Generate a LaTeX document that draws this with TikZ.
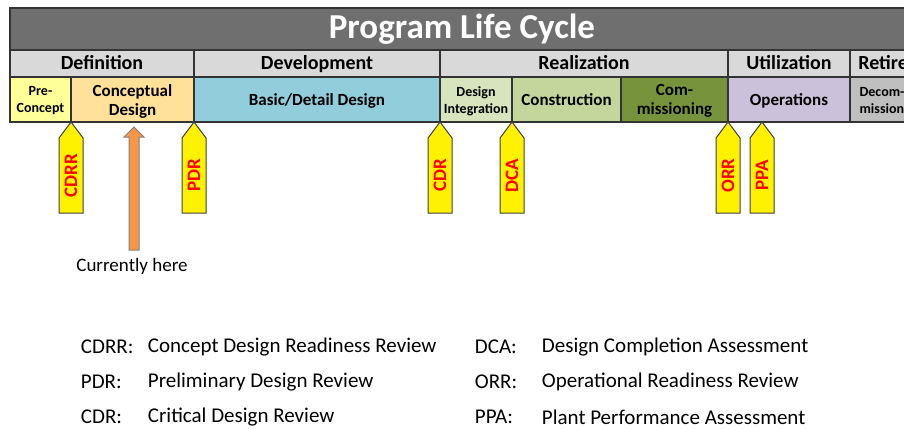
\documentclass[tikz,border=0pt]{standalone}
\usepackage{fontspec}
\setmainfont{Carlito}
\definecolor{titlegray}{HTML}{6F6F6F}
\definecolor{phasegray}{HTML}{D9D9D9}
\definecolor{precon}{HTML}{FFFF99}
\definecolor{concept}{HTML}{FFE199}
\definecolor{basic}{HTML}{92CDDC}
\definecolor{integ}{HTML}{D7E4BD}
\definecolor{constr}{HTML}{C3D69B}
\definecolor{commis}{HTML}{77933C}
\definecolor{oper}{HTML}{CCC1DA}
\definecolor{decom}{HTML}{BFBFBF}
\definecolor{herearrow}{HTML}{F79646}
\begin{document}
\begin{tikzpicture}[x=1pt, y=-1pt, line width=1.2pt,
    box/.style={draw=black!80},
    phasetxt/.style={anchor=base, font=\bfseries\fontsize{20}{21}\selectfont},
    subtxt/.style={font=\bfseries\fontsize{17}{19}\selectfont, align=center},
    smalltxt/.style={font=\bfseries\fontsize{14}{17}\selectfont, align=center},
    mstone/.style={draw=black!75, fill=yellow, line width=1pt},
    mslabel/.style={rotate=90, text=red, font=\bfseries\fontsize{19}{19}\selectfont},
    legtxt/.style={anchor=west, font=\fontsize{21}{22}\selectfont}]
    \useasboundingbox (0,0) rectangle (904,428);
    \clip (0,0) rectangle (904,428);

    % title bar
    \filldraw[box, fill=titlegray] (10,8) rectangle (914,50) node[pos=.5, text=white, font=\bfseries\fontsize{35}{36}\selectfont] (title) {Program Life Cycle};

    % phases
    \filldraw[box, fill=phasegray] (10,50) rectangle (194,77);
    \filldraw[box, fill=phasegray] (194,50) rectangle (440,77);
    \filldraw[box, fill=phasegray] (440,50) rectangle (728,77);
    \filldraw[box, fill=phasegray] (728,50) rectangle (850,77);
    \filldraw[box, fill=phasegray] (850,50) rectangle (960,77);
    \node[phasetxt] (def) at (102,70) {Definition};
    \node[phasetxt] (dev) at (317,70) {Development};
    \node[phasetxt] (real) at (584,70) {Realization};
    \node[phasetxt] (util) at (789,70) {Utilization};
    \node[phasetxt] (ret) at (905,70) {Retirement};

    % sub-phases
    \filldraw[box, fill=precon] (10,77) rectangle (71,122) node[pos=.5, smalltxt, yshift=-1.5pt] (pre) {Pre-\\Concept};
    \filldraw[box, fill=concept] (71,77) rectangle (194,122) node[pos=.5, subtxt, yshift=-1.5pt] (cd) {Conceptual\\Design};
    \filldraw[box, fill=basic] (194,77) rectangle (440,122);
    \node[subtxt, anchor=base] (bdd) at (317,105) {Basic/Detail Design};
    \filldraw[box, fill=integ] (440,77) rectangle (512,122) node[pos=.5, smalltxt, yshift=-1.5pt] (di) {Design\\Integration};
    \filldraw[box, fill=constr] (512,77) rectangle (621,122);
    \node[subtxt, anchor=base] (con) at (566.5,105) {Construction};
    \filldraw[box, fill=commis] (621,77) rectangle (728,122) node[pos=.5, subtxt, yshift=-1.5pt] (com) {Com-\\missioning};
    \filldraw[box, fill=oper] (728,77) rectangle (850,122);
    \node[subtxt, anchor=base] (ops) at (789,105) {Operations};
    \filldraw[box, fill=decom] (850,77) rectangle (970,122);
    \node[smalltxt, align=left, anchor=west, inner sep=0pt, yshift=-2pt] (dec) at (859,99.5) {Decom-\\missioning};

    % milestones
    \foreach \x/\lbl in {71/CDRR, 194/PDR, 440/CDR, 512/DCA, 728/ORR, 762/PPA}{
        \filldraw[mstone] (\x,122) -- (\x+12,138) -- (\x+12,213) -- (\x-12,213) -- (\x-12,138) -- cycle;
        \node[mslabel] (ms\lbl) at (\x,175.5) {\lbl};
    }

    % current position
    \filldraw[draw=black!50, fill=herearrow, line width=1pt] (129,250) -- (129,137) -- (124,137) -- (134,127) -- (144,137) -- (139,137) -- (139,250) -- cycle;
    \node[font=\fontsize{19}{20}\selectfont] (here) at (132,266) {Currently here};

    % legend
    \node[legtxt] (kCDRR) at (77,347) {CDRR:};
    \node[legtxt] (vCDRR) at (144,347) {Concept Design Readiness Review};
    \node[legtxt] (kPDR) at (77,382) {PDR:};
    \node[legtxt] (vPDR) at (144,382) {Preliminary Design Review};
    \node[legtxt] (kCDR) at (77,417) {CDR:};
    \node[legtxt] (vCDR) at (144,417) {Critical Design Review};
    \node[legtxt] (kDCA) at (471,347) {DCA:};
    \node[legtxt] (vDCA) at (538,347) {Design Completion Assessment};
    \node[legtxt] (kORR) at (471,382) {ORR:};
    \node[legtxt] (vORR) at (538,382) {Operational Readiness Review};
    \node[legtxt] (kPPA) at (471,417) {PPA:};
    \node[legtxt] (vPPA) at (538,417) {Plant Performance Assessment};
\end{tikzpicture}
\end{document}
